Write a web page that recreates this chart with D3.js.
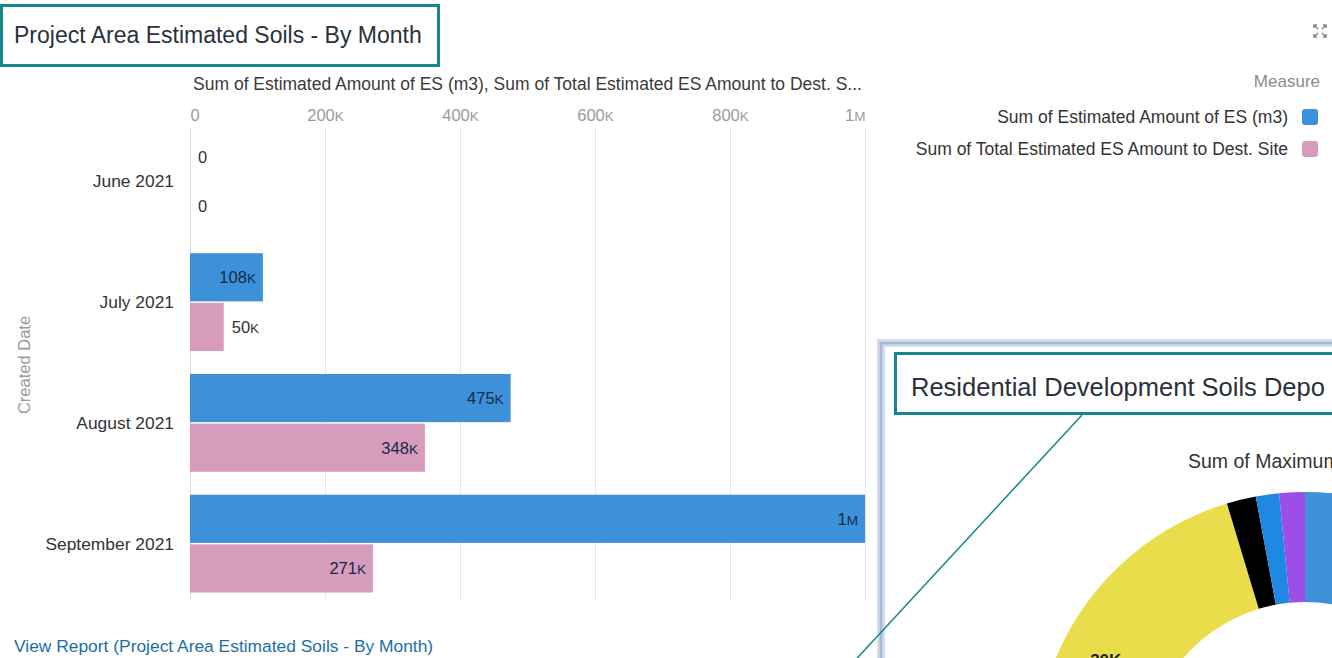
<!DOCTYPE html>
<html>
<head>
<meta charset="utf-8">
<script src="https://cdn.jsdelivr.net/npm/d3@7"></script>
<style>
  body { margin: 0; background: #fff; }
  svg { display: block; font-family: "Liberation Sans", Arial, sans-serif; }
  .sfx { font-size: 82%; }
</style>
</head>
<body>
<div id="content"></div>
<script>
// Set up canvas
var width = 1332, height = 658;

// chart data
var months = ["June 2021", "July 2021", "August 2021", "September 2021"];
var measures = ["Sum of Estimated Amount of ES (m3)", "Sum of Total Estimated ES Amount to Dest. Site"];
var estimatedES = [0, 108000, 475000, 1000000];
var destSite = [0, 50000, 348000, 271000];
var xTicks = [0, 200000, 400000, 600000, 800000, 1000000];
var colors = ["#3c91d8", "#d79bbb"];

// second (cut off) dashboard chart
var donutParts = ["Part 1", "Part 2", "Part 3", "Part 4", "Part 5"];
var donutValues = [251, 92, 6.3, 5, 5.5];
var donutColors = ["#3e91d6", "#e9dd4b", "#000000", "#1f88e3", "#9b4fe6"];
var donutLabels = ["", "30K", "", "", ""];

var svg = d3.select("#content")
    .append("svg")
    .attr("width", width)
    .attr("height", height);

// value format like 108K / 1M, suffix a bit smaller
function fmt(sel, v) {
    var s = d3.format("~s")(v);
    var num = s.replace(/[a-zA-Z]$/, "");
    var suf = s.slice(num.length).toUpperCase();
    sel.text(null);
    sel.append("tspan").text(num);
    if (suf) sel.append("tspan").attr("class", "sfx").text(suf);
}

// title box
svg.append("rect")
    .attr("x", 1.5).attr("y", 5.5).attr("width", 437).attr("height", 60)
    .attr("fill", "none").attr("stroke", "#14888c").attr("stroke-width", 3);
svg.append("text")
    .attr("x", 14).attr("y", 43)
    .style("font-size", "23px").style("fill", "#28313d")
    .text("Project Area Estimated Soils - By Month");

// expand icon
var ic = svg.append("g").attr("transform", "translate(1320,31)")
    .attr("stroke", "#8a8a8a").attr("stroke-width", 1.6).attr("fill", "none");
[[-1, -1], [1, -1], [-1, 1], [1, 1]].forEach(function(d) {
    ic.append("path").attr("d",
        "M" + (d[0] * 6) + "," + (d[1] * 6) + "L" + (d[0] * 2) + "," + (d[1] * 2) +
        "M" + (d[0] * 6) + "," + (d[1] * 3) + "L" + (d[0] * 6) + "," + (d[1] * 6) + "L" + (d[0] * 3) + "," + (d[1] * 6));
});

var xscale = d3.scaleLinear()
    .domain([0, 1000000])
    .range([190, 865]);

var yscale = d3.scaleBand()
    .domain(months)
    .range([121, 604])
    .paddingInner(0.19)
    .paddingOuter(0.095);

var inner = d3.scaleBand()
    .domain(measures)
    .range([0, yscale.bandwidth()])
    .paddingInner(0.03);

// axis on top with gridlines
var x_axis = d3.axisTop(xscale)
    .tickValues(xTicks)
    .tickSize(-472)
    .tickPadding(8);

var gx = svg.append("g")
    .attr("transform", "translate(0,128)")
    .call(x_axis);
gx.select(".domain").remove();
gx.selectAll(".tick line").attr("stroke", "#e6e6e6");
gx.selectAll(".tick text")
    .style("font-size", "16.5px")
    .style("fill", "#9a9a9a")
    .style("font-family", "Liberation Sans, Arial, sans-serif")
    .attr("text-anchor", function(d, i) { return i === 0 ? "start" : (i === xTicks.length - 1 ? "end" : "middle"); })
    .attr("dy", "0")
    .attr("y", -7)
    .each(function(d) { fmt(d3.select(this), d); });
gx.selectAll(".tick").filter(function(d) { return d === 0; }).select("line").attr("stroke", "#d9d9d9");

// axis title
svg.append("text")
    .attr("x", (xscale.range()[0] + xscale.range()[1]) / 2).attr("y", 90)
    .attr("text-anchor", "middle")
    .style("font-size", "17.5px").style("fill", "#3a3a3a")
    .text("Sum of Estimated Amount of ES (m3), Sum of Total Estimated ES Amount to Dest. S...");

// category labels
svg.selectAll(".cat")
    .data(months)
    .enter().append("text")
    .attr("class", "cat")
    .attr("x", 174)
    .attr("y", function(d) { return yscale(d) + yscale.bandwidth() / 2 + 6; })
    .attr("text-anchor", "end")
    .style("font-size", "17.4px").style("fill", "#333")
    .text(function(d) { return d; });

svg.append("text")
    .attr("transform", "translate(30,365) rotate(-90)")
    .attr("text-anchor", "middle")
    .style("font-size", "16.5px").style("fill", "#9a9a9a")
    .text("Created Date");

// bars
var rows = [];
months.forEach(function(m, i) {
    rows.push({ month: m, measure: measures[0], value: estimatedES[i], color: colors[0] });
    rows.push({ month: m, measure: measures[1], value: destSite[i], color: colors[1] });
});

svg.selectAll(".bar")
    .data(rows)
    .enter().append("rect")
    .attr("class", "bar")
    .attr("x", xscale(0))
    .attr("y", function(d) { return yscale(d.month) + inner(d.measure); })
    .attr("width", function(d) { return xscale(d.value) - xscale(0); })
    .attr("height", inner.bandwidth())
    .style("fill", function(d) { return d.color; });

svg.selectAll(".lbl")
    .data(rows)
    .enter().append("text")
    .attr("class", "lbl")
    .style("font-size", "16.5px")
    .attr("y", function(d) { return yscale(d.month) + inner(d.measure) + inner.bandwidth() / 2 + 6; })
    .each(function(d) {
        var t = d3.select(this);
        fmt(t, d.value);
        var w = this.getComputedTextLength();
        var bw = xscale(d.value) - xscale(0);
        if (bw > w + 14) {
            t.attr("x", xscale(d.value) - 7).attr("text-anchor", "end").style("fill", "#122a48");
        } else {
            t.attr("x", xscale(d.value) + 8).attr("text-anchor", "start").style("fill", "#333");
        }
    });

// legend
svg.append("text")
    .attr("x", 1320).attr("y", 87)
    .attr("text-anchor", "end")
    .style("font-size", "17px").style("fill", "#8a8a8a")
    .text("Measure");

var leg = svg.selectAll(".leg")
    .data(measures)
    .enter().append("g")
    .attr("class", "leg")
    .attr("transform", function(d, i) { return "translate(0," + (117 + i * 32) + ")"; });
leg.append("text")
    .attr("x", 1288).attr("y", 6)
    .attr("text-anchor", "end")
    .style("font-size", "17.5px").style("fill", "#333")
    .text(function(d) { return d; });
leg.append("rect")
    .attr("x", 1302).attr("y", -8).attr("width", 16).attr("height", 16).attr("rx", 3)
    .style("fill", function(d, i) { return colors[i]; });

// report link
svg.append("text")
    .attr("x", 14).attr("y", 652)
    .style("font-size", "17.4px").style("fill", "#1c6ea6")
    .text("View Report (Project Area Estimated Soils - By Month)");

// second dashboard panel (cut off at right/bottom)
svg.append("rect")
    .attr("x", 881).attr("y", 343).attr("width", 520).attr("height", 400)
    .attr("fill", "#fff").attr("stroke", "#d5dfec").attr("stroke-width", 8);
svg.append("rect")
    .attr("x", 881).attr("y", 343).attr("width", 520).attr("height", 400)
    .attr("fill", "none").attr("stroke", "#a7bbd6").attr("stroke-width", 3);

svg.append("rect")
    .attr("x", 895.5).attr("y", 353.5).attr("width", 500).attr("height", 60)
    .attr("fill", "none").attr("stroke", "#14888c").attr("stroke-width", 3);
svg.append("text")
    .attr("x", 911).attr("y", 396)
    .style("font-size", "25.5px").style("fill", "#28313d")
    .text("Residential Development Soils Depo");

svg.append("text")
    .attr("x", 1188).attr("y", 468)
    .style("font-size", "19.5px").style("fill", "#333")
    .text("Sum of Maximum");

var pie = d3.pie().sort(null).value(function(d) { return d; });
var arc = d3.arc().innerRadius(160).outerRadius(270);
var donut = svg.append("g").attr("transform", "translate(1305,762)");
var arcs = pie(donutValues);
donut.selectAll("path")
    .data(arcs)
    .enter().append("path")
    .attr("d", arc)
    .style("fill", function(d, i) { return donutColors[i]; });
donut.selectAll(".dl")
    .data(arcs)
    .enter().append("text")
    .attr("class", "dl")
    .attr("x", function(d) { return arc.centroid(d)[0] - 8; })
    .attr("y", function(d) { return arc.centroid(d)[1] + 2; })
    .attr("text-anchor", "middle")
    .style("font-size", "17px").style("font-weight", "bold").style("fill", "#222")
    .text(function(d, i) { return donutLabels[i]; });

// connector line
svg.append("line")
    .attr("x1", 1082).attr("y1", 415).attr("x2", 848).attr("y2", 668)
    .attr("stroke", "#14888c").attr("stroke-width", 1.5);
</script>
</body>
</html>
